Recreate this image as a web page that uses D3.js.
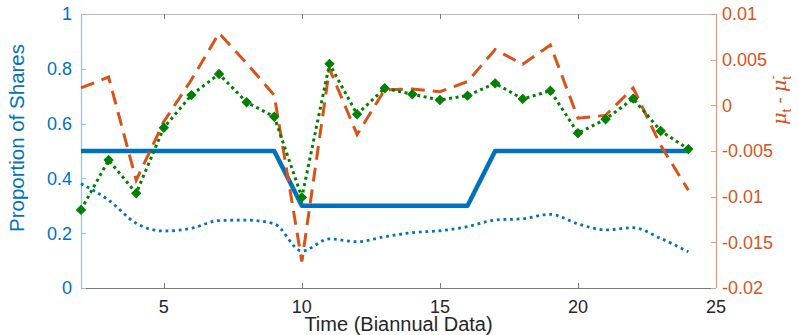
<!DOCTYPE html>
<html>
<head>
<meta charset="utf-8">
<script src="https://cdn.jsdelivr.net/npm/d3@7"></script>
<style>
  html, body { margin: 0; padding: 0; background: #fff; }
  svg { display: block; font-family: "Liberation Sans", Arial, Helvetica, sans-serif; }
</style>
</head>
<body>
<svg id="chart" width="799" height="335"></svg>
<script>
// ---- data ----
const times = [2,3,4,5,6,7,8,9,10,11,12,13,14,15,16,17,18,19,20,21,22,23,24];
const shareRule = [0.5,0.5,0.5,0.5,0.5,0.5,0.5,0.5,0.3,0.3,0.3,0.3,0.3,0.3,0.3,0.5,0.5,0.5,0.5,0.5,0.5,0.5,0.5];
const shareSmooth = [0.381,0.321,0.236,0.208,0.218,0.246,0.248,0.234,0.135,0.179,0.169,0.187,0.202,0.209,0.224,0.248,0.253,0.269,0.234,0.212,0.220,0.181,0.132];
const shareMarked = [0.285,0.467,0.346,0.585,0.704,0.781,0.678,0.625,0.331,0.818,0.634,0.729,0.707,0.686,0.702,0.747,0.690,0.720,0.565,0.616,0.691,0.573,0.507];
const muDiff = [0.0019,0.0031,-0.0082,-0.0018,0.0028,0.0079,0.0046,0.0011,-0.0171,0.0040,-0.0032,0.0017,0.0018,0.0015,0.0026,0.0061,0.0045,0.0066,-0.0014,-0.0011,0.0019,-0.0044,-0.0093];
const xTicks = [5,10,15,20,25];
const yLeftTicks = [0,0.2,0.4,0.6,0.8,1];
const yRightTicks = [-0.02,-0.015,-0.01,-0.005,0,0.005,0.01];
const xLabel = "Time (Biannual Data)";
const yLeftLabel = "Proportion of Shares";

// ---- layout ----
const L = 81, R = 716, T = 14, B = 288;
const BLUE = "#0072BD", ORANGE = "#D95319", GREEN = "#008000", DARK = "#262626";

const svg = d3.select("#chart");
const x = d3.scaleLinear().domain([2,25]).range([L,R]);
const yL = d3.scaleLinear().domain([0,1]).range([B,T]);
const yR = d3.scaleLinear().domain([-0.02,0.01]).range([B,T]);

// frame lines
svg.append("line").attr("x1",L).attr("x2",R).attr("y1",T+0.5).attr("y2",T+0.5)
  .attr("stroke","#bdbdbd").attr("stroke-width",1.2);
svg.append("line").attr("x1",L).attr("x2",R).attr("y1",B+0.5).attr("y2",B+0.5)
  .attr("stroke","#7a7a7a").attr("stroke-width",1);
svg.append("line").attr("x1",L+0.5).attr("x2",L+0.5).attr("y1",T).attr("y2",B)
  .attr("stroke","#8fc2e6").attr("stroke-width",1.2);
svg.append("line").attr("x1",R+0.5).attr("x2",R+0.5).attr("y1",T).attr("y2",B)
  .attr("stroke","#ec9a78").attr("stroke-width",1.2);

// x ticks (bottom + top, inward)
const xt = svg.append("g");
xTicks.forEach(t => {
  const px = Math.round(x(t)) + 0.5;
  if (t < 25) {
    xt.append("line").attr("x1",px).attr("x2",px).attr("y1",B).attr("y2",B-5).attr("stroke","#7a7a7a");
    xt.append("line").attr("x1",px).attr("x2",px).attr("y1",T).attr("y2",T+5).attr("stroke","#7a7a7a");
  }
  xt.append("text").attr("x",x(t)).attr("y",313).attr("text-anchor","middle")
    .attr("font-size",18).attr("fill",DARK).text(t);
});

// left ticks
yLeftTicks.forEach(t => {
  const py = Math.round(yL(t)) + 0.5;
  svg.append("line").attr("x1",L).attr("x2",L+5).attr("y1",py).attr("y2",py).attr("stroke","#8fc2e6");
  svg.append("text").attr("x",72).attr("y",yL(t)).attr("dy","0.36em").attr("text-anchor","end")
    .attr("font-size",18).attr("fill",BLUE).text(t);
});
// right ticks
yRightTicks.forEach(t => {
  const py = Math.round(yR(t)) + 0.5;
  svg.append("line").attr("x1",R).attr("x2",R-5).attr("y1",py).attr("y2",py).attr("stroke","#ec9a78");
  svg.append("text").attr("x",722).attr("y",yR(t)).attr("dy","0.36em").attr("text-anchor","start")
    .attr("font-size",18).attr("fill",ORANGE).text(t);
});

// axis labels
svg.append("text").attr("x",(L+R)/2).attr("y",331).attr("text-anchor","middle")
  .attr("font-size",20).attr("fill",DARK).text(xLabel);
svg.append("text").attr("transform","translate(24,138) rotate(-90)").attr("text-anchor","middle")
  .attr("font-size",20.5).attr("fill",BLUE).text(yLeftLabel);

const rl = svg.append("text").attr("transform","translate(786,100) rotate(-90)")
  .attr("text-anchor","middle").attr("font-size",19).attr("fill",ORANGE);
rl.append("tspan").attr("font-style","italic").attr("font-family","DejaVu Serif, serif").text("μ");
rl.append("tspan").attr("font-size",13).attr("dy",5).text("t");
rl.append("tspan").attr("dy",-5).text(" - ");
rl.append("tspan").attr("font-style","italic").attr("font-family","DejaVu Serif, serif").text("μ");
rl.append("tspan").attr("font-size",13).attr("dy",5).text("t");
rl.append("tspan").attr("font-size",13).attr("dx",-3.5).attr("dy",-14).text("-");

// ---- series ----
const plot = svg.append("g");

plot.append("path").datum(times.map((t,i)=>[t,shareRule[i]]))
  .attr("d", d3.line().x(d=>x(d[0])).y(d=>yL(d[1])))
  .attr("fill","none").attr("stroke",BLUE).attr("stroke-width",4.5).attr("stroke-linejoin","round");

plot.append("path").datum(times.map((t,i)=>[t,shareSmooth[i]]))
  .attr("d", d3.line().curve(d3.curveMonotoneX).x(d=>x(d[0])).y(d=>yL(d[1])))
  .attr("fill","none").attr("stroke",BLUE).attr("stroke-width",2.8).attr("stroke-dasharray","2.8,3.8");

plot.append("path").datum(times.map((t,i)=>[t,muDiff[i]]))
  .attr("d", d3.line().x(d=>x(d[0])).y(d=>yR(d[1])))
  .attr("fill","none").attr("stroke",ORANGE).attr("stroke-width",3).attr("stroke-dasharray","14,8");

plot.append("path").datum(times.map((t,i)=>[t,shareMarked[i]]))
  .attr("d", d3.line().x(d=>x(d[0])).y(d=>yL(d[1])))
  .attr("fill","none").attr("stroke",GREEN).attr("stroke-width",3).attr("stroke-dasharray","3,3.5");

plot.selectAll("path.dia").data(times.map((t,i)=>[t,shareMarked[i]])).enter().append("path")
  .attr("class","dia")
  .attr("d", d3.symbol().type(d3.symbolSquare).size(40))
  .attr("transform", d => `translate(${x(d[0])},${yL(d[1])}) rotate(45)`)
  .attr("fill",GREEN).attr("stroke",GREEN).attr("stroke-width",1);
</script>
</body>
</html>
